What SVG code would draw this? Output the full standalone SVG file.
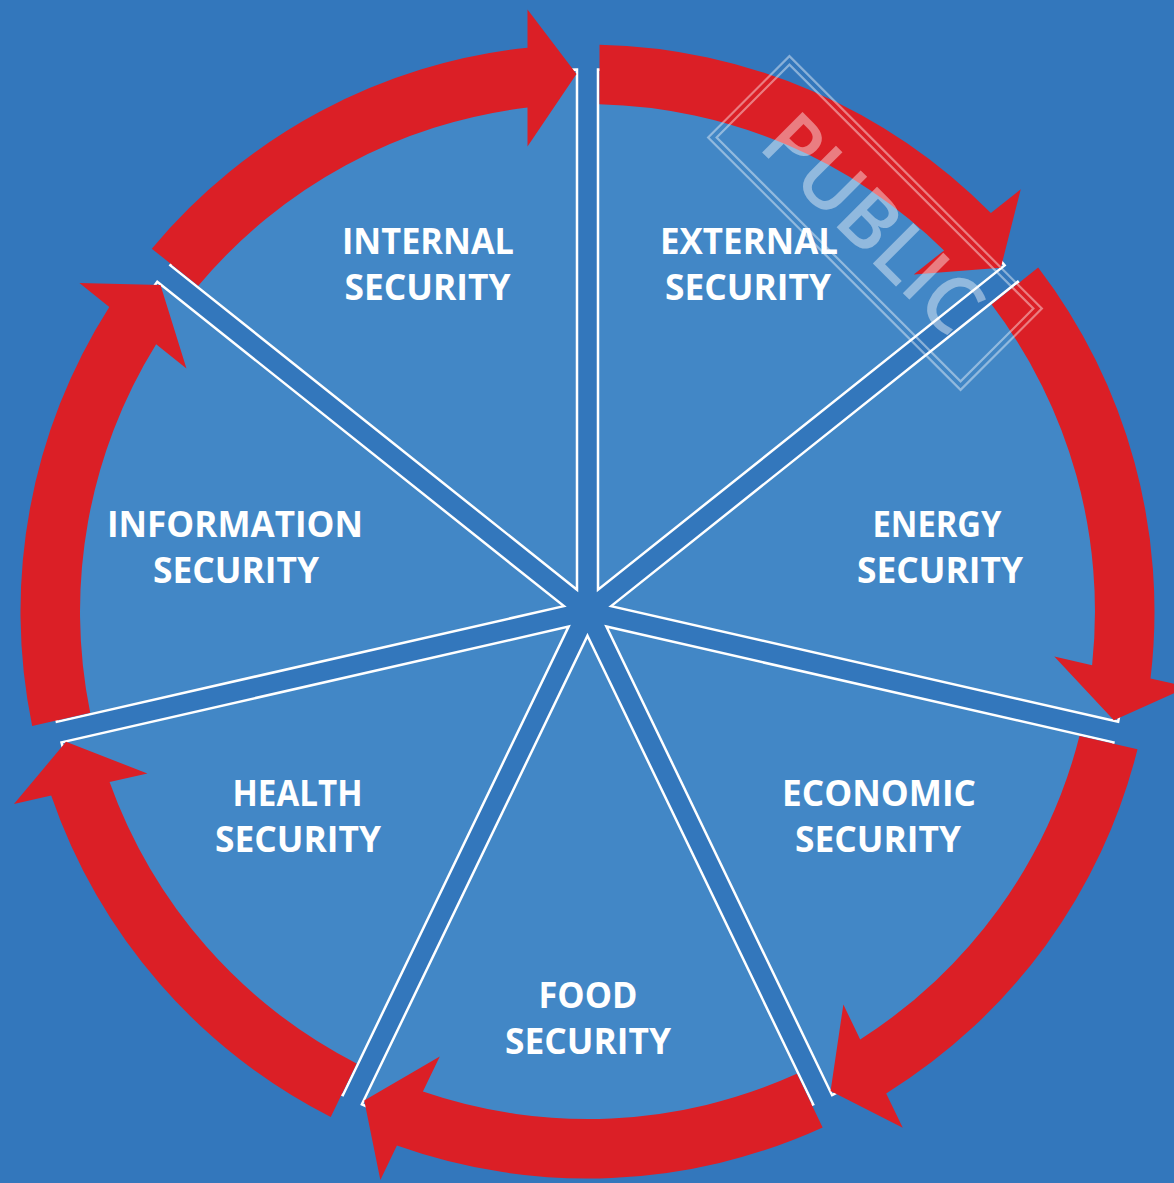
<svg xmlns="http://www.w3.org/2000/svg" xmlns:xlink="http://www.w3.org/1999/xlink" width="1174" height="1183" viewBox="0 0 1174 1183">
  <style>
    .wedge { fill: #4287C6; stroke: #FFFFFF; stroke-width: 2.5; stroke-linejoin: miter; }
    .arrow { fill: #DB1F26; stroke: none; }
    .label { font-family: "Open Sans", "Liberation Sans", sans-serif; font-weight: 700; font-size: 35px; fill: #FFFFFF; text-anchor: middle; }
    .wm-frame { fill: none; stroke: #FFFFFF; stroke-width: 2.2; }
    .wm-text { font-family: "Open Sans", "Liberation Sans", sans-serif; font-weight: 600; font-size: 80px; fill: #FFFFFF; }
  </style>
  <defs>
    <path id="wedgeShape" d="M 10.5,-21.8 L 10.5,-541.9 A 542 542 0 0 1 417.12,-346.08 Z"/>
    <path id="arrowShape" d="M -435.72,-362.82 A 567 567 0 0 1 -60,-563.8 L -60,-602 L -11,-537.4 L -60,-465.1 L -60,-503.9 A 507.5 507.5 0 0 0 -389.19,-325.71 Z"/>
  </defs>

  <rect x="0" y="0" width="1174" height="1183" fill="#3377BC"/>

  <g id="nodes">
    <g id="external-security">
      <use xlink:href="#wedgeShape" href="#wedgeShape" class="wedge" transform="translate(587.5,611.5) rotate(0)"/>
      <text class="label" x="749" y="254" textLength="178" lengthAdjust="spacingAndGlyphs">EXTERNAL</text>
      <text class="label" x="748" y="300" textLength="166" lengthAdjust="spacingAndGlyphs">SECURITY</text>
    </g>
    <g id="energy-security">
      <use xlink:href="#wedgeShape" href="#wedgeShape" class="wedge" transform="translate(587.5,611.5) rotate(51.4286)"/>
      <text class="label" x="937" y="537" textLength="129" lengthAdjust="spacingAndGlyphs">ENERGY</text>
      <text class="label" x="940" y="583" textLength="166" lengthAdjust="spacingAndGlyphs">SECURITY</text>
    </g>
    <g id="economic-security">
      <use xlink:href="#wedgeShape" href="#wedgeShape" class="wedge" transform="translate(587.5,611.5) rotate(102.8571)"/>
      <text class="label" x="879" y="806" textLength="194" lengthAdjust="spacingAndGlyphs">ECONOMIC</text>
      <text class="label" x="878" y="852" textLength="166" lengthAdjust="spacingAndGlyphs">SECURITY</text>
    </g>
    <g id="food-security">
      <use xlink:href="#wedgeShape" href="#wedgeShape" class="wedge" transform="translate(587.5,611.5) rotate(154.2857)"/>
      <text class="label" x="588" y="1008" textLength="99" lengthAdjust="spacingAndGlyphs">FOOD</text>
      <text class="label" x="588" y="1054" textLength="166" lengthAdjust="spacingAndGlyphs">SECURITY</text>
    </g>
    <g id="health-security">
      <use xlink:href="#wedgeShape" href="#wedgeShape" class="wedge" transform="translate(587.5,611.5) rotate(205.7143)"/>
      <text class="label" x="297.5" y="806" textLength="130" lengthAdjust="spacingAndGlyphs">HEALTH</text>
      <text class="label" x="298" y="852" textLength="166" lengthAdjust="spacingAndGlyphs">SECURITY</text>
    </g>
    <g id="information-security">
      <use xlink:href="#wedgeShape" href="#wedgeShape" class="wedge" transform="translate(587.5,611.5) rotate(257.1429)"/>
      <text class="label" x="235" y="537" textLength="256" lengthAdjust="spacingAndGlyphs">INFORMATION</text>
      <text class="label" x="236" y="583" textLength="166" lengthAdjust="spacingAndGlyphs">SECURITY</text>
    </g>
    <g id="internal-security">
      <use xlink:href="#wedgeShape" href="#wedgeShape" class="wedge" transform="translate(587.5,611.5) rotate(308.5714)"/>
      <text class="label" x="428" y="254" textLength="172" lengthAdjust="spacingAndGlyphs">INTERNAL</text>
      <text class="label" x="427.5" y="300" textLength="166" lengthAdjust="spacingAndGlyphs">SECURITY</text>
    </g>
  </g>

  <g id="connectors">
    <use xlink:href="#arrowShape" href="#arrowShape" class="arrow" transform="translate(587.5,611.5) rotate(0)"/>
    <use xlink:href="#arrowShape" href="#arrowShape" class="arrow" transform="translate(587.5,611.5) rotate(51.4286)"/>
    <use xlink:href="#arrowShape" href="#arrowShape" class="arrow" transform="translate(587.5,611.5) rotate(102.8571)"/>
    <use xlink:href="#arrowShape" href="#arrowShape" class="arrow" transform="translate(587.5,611.5) rotate(154.2857)"/>
    <use xlink:href="#arrowShape" href="#arrowShape" class="arrow" transform="translate(587.5,611.5) rotate(205.7143)"/>
    <use xlink:href="#arrowShape" href="#arrowShape" class="arrow" transform="translate(587.5,611.5) rotate(257.1429)"/>
    <use xlink:href="#arrowShape" href="#arrowShape" class="arrow" transform="translate(587.5,611.5) rotate(308.5714)"/>
  </g>

  <g id="watermark" transform="translate(875,223) rotate(45)" opacity="0.42">
    <rect class="wm-frame" x="-178.5" y="-57.5" width="357" height="115"/>
    <rect class="wm-frame" x="-172.5" y="-51.5" width="345" height="103"/>
    <text class="wm-text" x="-137" y="30" textLength="272" lengthAdjust="spacingAndGlyphs">PUBLIC</text>
  </g>
</svg>
